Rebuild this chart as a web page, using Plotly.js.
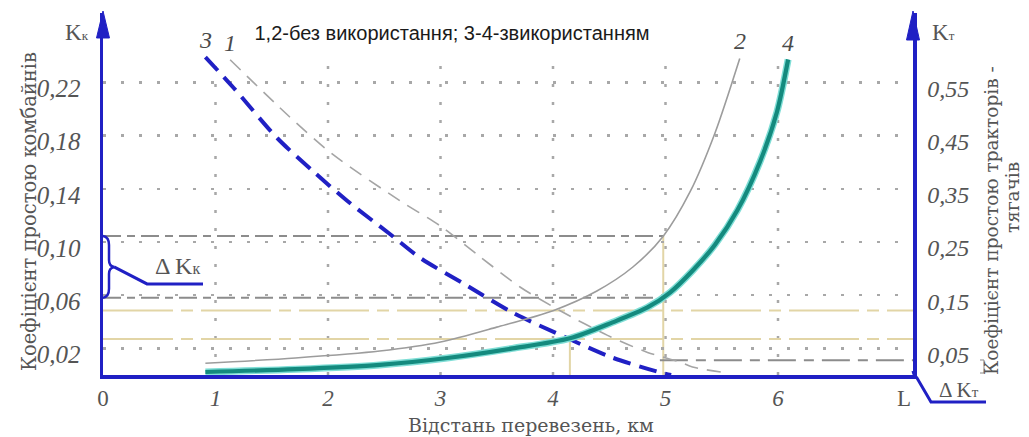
<!DOCTYPE html>
<html><head><meta charset="utf-8">
<script src="https://cdn.plot.ly/plotly-3.0.1.min.js"></script>
<style>html,body{margin:0;padding:0;background:#fff;} #chart{width:1029px;height:437px;}</style>
</head><body><div id="chart"></div>
<script>
// ---------------- data ----------------
// curve 1 (without use) – combine idle coefficient Kк
const curve1X = [1.13, 1.66, 2.04, 2.64, 3.0, 3.35, 3.71, 4.06, 4.48, 4.84, 5.13, 5.24, 5.51];
const curve1Y = [0.237, 0.194, 0.166, 0.131, 0.112, 0.089, 0.066, 0.0485, 0.030, 0.017, 0.0097, 0.006, 0.002];
// curve 2 (without use) – tractor idle coefficient Kт
const curve2X = [0.91, 1.71, 2.46, 3.0, 3.5, 4.0, 4.39, 4.71, 4.98, 5.22, 5.44, 5.66];
const curve2Y = [0.022, 0.032, 0.045, 0.062, 0.09, 0.121, 0.158, 0.203, 0.261, 0.345, 0.455, 0.595];
// curve 3 (with use) – Kк
const curve3X = [0.91, 1.16, 1.55, 1.87, 2.17, 2.55, 2.82, 3.2, 3.64, 4.12, 4.53, 4.95, 5.05];
const curve3Y = [0.239, 0.216, 0.178, 0.153, 0.131, 0.106, 0.088, 0.069, 0.047, 0.028, 0.013, 0.002, 0];
// curve 4 (with use) – Kт
const curve4X = [0.91, 1.71, 2.46, 3.06, 3.64, 4.15, 4.53, 4.84, 5.04, 5.24, 5.44, 5.64, 5.84, 5.99, 6.09];
const curve4Y = [0.0056, 0.011, 0.019, 0.032, 0.05, 0.069, 0.099, 0.127, 0.155, 0.196, 0.245, 0.31, 0.401, 0.494, 0.593];
const curveNames = ['1', '2', '3', '4'];

// reference levels (Kк units)
const deltaKkLevels = [0.1045, 0.058];   // ΔKк bounds
const deltaKkEndX = 4.98;
const tanLevels = [0.0485, 0.027];       // intersection levels
const tanCrossX = [4.98, 4.15];
const tanCrossTop = [0.1045, 0.027];
const deltaKtLevel = 0.011;
const deltaKtStartX = 4.95;

// axes ticks
const xTickVals = [0, 1, 2, 3, 4, 5, 6, 7.12];
const xTickText = ['0', '<i>1</i>', '<i>2</i>', '<i>3</i>', '<i>4</i>', '<i>5</i>', '<i>6</i>', 'L'];
const xGridVals = [1, 2, 3, 4, 5, 6];
const kkTickVals = [0.02, 0.06, 0.10, 0.14, 0.18, 0.22];
const kkTickText = ['0,02', '0,06', '0,10', '0,14', '0,18', '0,22'];
const ktTickVals = [0.05, 0.15, 0.25, 0.35, 0.45, 0.55];
const ktTickText = ['0,05', '0,15', '0,25', '0,35', '0,45', '0,55'];

// texts
const chartTitle = '1,2-без використання; 3-4-звикористанням';
const xTitle = 'Відстань перевезень, км';
const yLeftTitle = 'Коефіцієнт простою комбайнів';
const yRightTitle1 = 'Коефіцієнт простою тракторів -';
const yRightTitle2 = 'тягачів';

// ---------------- geometry ----------------
const W = 1029, H = 437;
const L0 = 103, R0 = 913, T0 = 13, B0 = 375;
const PX_PER_X = 112.5, PX_PER_Y = 1330;
const XMAX = (R0 - L0) / PX_PER_X;
const YMAX = (B0 - T0) / PX_PER_Y;
const KT_FACTOR = 2.5;

const BLUE = '#2020c4';
const TXT = '#555555';
const SERIF = 'Liberation Serif, Times New Roman, serif';
const WIDESERIF = 'DejaVu Serif, serif';

function px(x) { return (x - L0) / (R0 - L0); }
function py(y) { return (B0 - y) / (B0 - T0); }
function P(x, y) { return px(x).toFixed(5) + ',' + py(y).toFixed(5); }
function levelPix(v) { return B0 - v * PX_PER_Y; }

// ---------------- traces ----------------
const traces = [
  {x: curve1X, y: curve1Y, yaxis: 'y', mode: 'lines', name: curveNames[0],
   line: {color: '#a5a5a5', width: 1.6, dash: '14px,9px', shape: 'spline', smoothing: 0.8}},
  {x: curve2X, y: curve2Y, yaxis: 'y2', mode: 'lines', name: curveNames[1],
   line: {color: '#9c9c9c', width: 1.6, shape: 'spline', smoothing: 0.8}},
  {x: curve3X, y: curve3Y, yaxis: 'y', mode: 'lines', name: curveNames[2],
   line: {color: BLUE, width: 4, dash: '18px,9px', shape: 'spline', smoothing: 0.8}},
  {x: curve4X, y: curve4Y, yaxis: 'y2', mode: 'lines', name: curveNames[3] + 'g', hoverinfo: 'skip',
   line: {color: '#7fded6', width: 7, shape: 'spline', smoothing: 0.8}},
  {x: curve4X, y: curve4Y, yaxis: 'y2', mode: 'lines', name: curveNames[3],
   line: {color: '#148a7e', width: 4.2, shape: 'spline', smoothing: 0.8}}
];

// ---------------- shapes ----------------
const shapes = [];
const dotDash = '3px,15px';
xGridVals.forEach(v => shapes.push({type: 'line', xref: 'x', yref: 'y', x0: v, x1: v, y0: 0, y1: 0.243,
  layer: 'below', line: {color: '#a8a8a8', width: 2.5, dash: dotDash}}));
deltaKkLevels.forEach(v => shapes.push({type: 'line', xref: 'x', yref: 'y', x0: 0, x1: deltaKkEndX, y0: v, y1: v,
  layer: 'below', line: {color: '#8c8c8c', width: 2, dash: '18px,6px,8px,6px'}}));
tanLevels.forEach(v => shapes.push({type: 'line', xref: 'x', yref: 'y', x0: 0, x1: XMAX, y0: v, y1: v,
  layer: 'below', line: {color: '#e2d5a6', width: 2, dash: '70px,8px,12px,8px'}}));
tanCrossX.forEach((v, i) => shapes.push({type: 'line', xref: 'x', yref: 'y', x0: v, x1: v, y0: 0, y1: tanCrossTop[i],
  layer: 'below', line: {color: '#e2d5a6', width: 2}}));
shapes.push({type: 'line', xref: 'x', yref: 'y', x0: deltaKtStartX, x1: XMAX, y0: deltaKtLevel, y1: deltaKtLevel,
  layer: 'below', line: {color: '#8c8c8c', width: 2, dash: '28px,8px,10px,8px'}});

// axis arrows
shapes.push({type: 'path', xref: 'paper', yref: 'paper', path: `M ${P(103,11)} L ${P(96.5,38)} L ${P(109.5,38)} Z`,
  fillcolor: BLUE, line: {color: BLUE, width: 1}});
shapes.push({type: 'path', xref: 'paper', yref: 'paper', path: `M ${P(913,11)} L ${P(906.5,40)} L ${P(919.5,40)} Z`,
  fillcolor: BLUE, line: {color: BLUE, width: 1}});

// ΔKк brace and leader
const yTop = levelPix(deltaKkLevels[0]), yBot = levelPix(deltaKkLevels[1]), yMid = (yTop + yBot) / 2;
shapes.push({type: 'path', xref: 'paper', yref: 'paper',
  path: `M ${P(103,yTop)} Q ${P(109,yTop+1)} ${P(109,yTop+9)} L ${P(109,yMid-7)} Q ${P(109,yMid-1)} ${P(114,yMid)} Q ${P(109,yMid+1)} ${P(109,yMid+7)} L ${P(109,yBot-9)} Q ${P(109,yBot-1)} ${P(103,yBot)}`,
  line: {color: BLUE, width: 2.5}});
shapes.push({type: 'path', xref: 'paper', yref: 'paper',
  path: `M ${P(114,yMid)} L ${P(147,yMid+17)} L ${P(203,yMid+17)}`,
  line: {color: BLUE, width: 3}});
// ΔKт leader
shapes.push({type: 'path', xref: 'paper', yref: 'paper',
  path: `M ${P(913,371)} Q ${P(914,376)} ${P(917,378)} L ${P(931,402)} L ${P(986,402)}`,
  line: {color: BLUE, width: 3}});
shapes.push({type: 'path', xref: 'paper', yref: 'paper',
  path: `M ${P(980,360)} L ${P(984,360)} L ${P(984,373)} L ${P(980,373)}`,
  line: {color: '#888', width: 1}});

// ---------------- annotations ----------------
const ann = [];
const font = (fam, s, extra) => Object.assign({family: fam, size: s, color: TXT}, extra || {});
ann.push({xref: 'paper', yref: 'paper', x: px(29), y: py(212), text: yLeftTitle, textangle: -90, showarrow: false,
  xanchor: 'center', yanchor: 'middle', font: font(WIDESERIF, 19.5)});
ann.push({xref: 'paper', yref: 'paper', x: px(992), y: py(220), text: yRightTitle1, textangle: -90, showarrow: false,
  xanchor: 'center', yanchor: 'middle', font: font(WIDESERIF, 18.5)});
ann.push({xref: 'paper', yref: 'paper', x: px(1012), y: py(198), text: yRightTitle2, textangle: -90, showarrow: false,
  xanchor: 'center', yanchor: 'middle', font: font(WIDESERIF, 18.5)});
ann.push({xref: 'paper', yref: 'paper', x: px(531), y: py(425), text: xTitle, showarrow: false,
  xanchor: 'center', yanchor: 'middle', font: font(WIDESERIF, 19)});
ann.push({xref: 'paper', yref: 'paper', x: px(77), y: py(33), text: 'K<span style="font-size:13px">к</span>', showarrow: false,
  xanchor: 'center', yanchor: 'middle', font: font(SERIF, 23)});
ann.push({xref: 'paper', yref: 'paper', x: px(943), y: py(33), text: 'K<span style="font-size:13px">т</span>', showarrow: false,
  xanchor: 'center', yanchor: 'middle', font: font(SERIF, 23)});
ann.push({xref: 'paper', yref: 'paper', x: px(177), y: py(266), text: 'Δ K<span style="font-size:16px">к</span>', showarrow: false,
  xanchor: 'center', yanchor: 'middle', font: font(SERIF, 24)});
ann.push({xref: 'paper', yref: 'paper', x: px(959), y: py(390), text: 'Δ K<span style="font-size:15px">т</span>', showarrow: false,
  xanchor: 'center', yanchor: 'middle', font: font(SERIF, 21)});
// curve labels anchored to curve ends
const lab = (x, y, yaxis, t) => ({xref: 'x', yref: yaxis, x: x, y: y, text: '<i>' + t + '</i>', showarrow: false,
  yshift: 17, xanchor: 'center', yanchor: 'middle', font: font(SERIF, 24, {color: '#4a4a4a'})});
ann.push(lab(curve3X[0], curve3Y[0], 'y', curveNames[2]));
ann.push(lab(curve1X[0], curve1Y[0], 'y', curveNames[0]));
ann.push(lab(curve2X[curve2X.length - 1], curve2Y[curve2Y.length - 1], 'y2', curveNames[1]));
ann.push(lab(curve4X[curve4X.length - 1], curve4Y[curve4Y.length - 1], 'y2', curveNames[3]));

// ---------------- layout ----------------
const layout = {
  width: W, height: H,
  margin: {l: L0, r: W - R0, t: T0, b: H - B0, pad: 0},
  paper_bgcolor: '#fff', plot_bgcolor: '#fff',
  showlegend: false,
  title: {text: chartTitle, xref: 'container', yref: 'container', x: 452 / W, y: 1 - 33 / H,
    xanchor: 'center', yanchor: 'middle', font: {family: 'Liberation Sans, Arial, sans-serif', size: 20, color: '#1a1a1a'}},
  xaxis: {range: [0, XMAX], tickvals: xTickVals, ticktext: xTickText, showgrid: false, zeroline: false,
    showline: true, linecolor: BLUE, linewidth: 3.5, ticks: '', ticklabelstandoff: 0,
    tickfont: {family: SERIF, size: 23, color: TXT}},
  yaxis: {range: [0, YMAX], tickvals: kkTickVals, ticktext: kkTickText, showgrid: true, gridcolor: '#a8a8a8',
    gridwidth: 2.5, griddash: dotDash, zeroline: false, showline: true, linecolor: BLUE, linewidth: 3.5,
    ticks: '', ticklabelstandoff: 14, ticklabelshift: 6,
    tickfont: {family: SERIF, size: 25, color: TXT, style: 'italic'}},
  yaxis2: {range: [0, YMAX * KT_FACTOR], overlaying: 'y', side: 'right', tickvals: ktTickVals, ticktext: ktTickText,
    showgrid: false, zeroline: false, showline: true, linecolor: BLUE, linewidth: 3.5, ticks: '',
    ticklabelstandoff: 6, ticklabelshift: 6,
    tickfont: {family: SERIF, size: 24, color: TXT, style: 'italic'}},
  shapes: shapes,
  annotations: ann
};

Plotly.newPlot('chart', traces, layout, {staticPlot: true, displayModeBar: false});
</script>
</body></html>
